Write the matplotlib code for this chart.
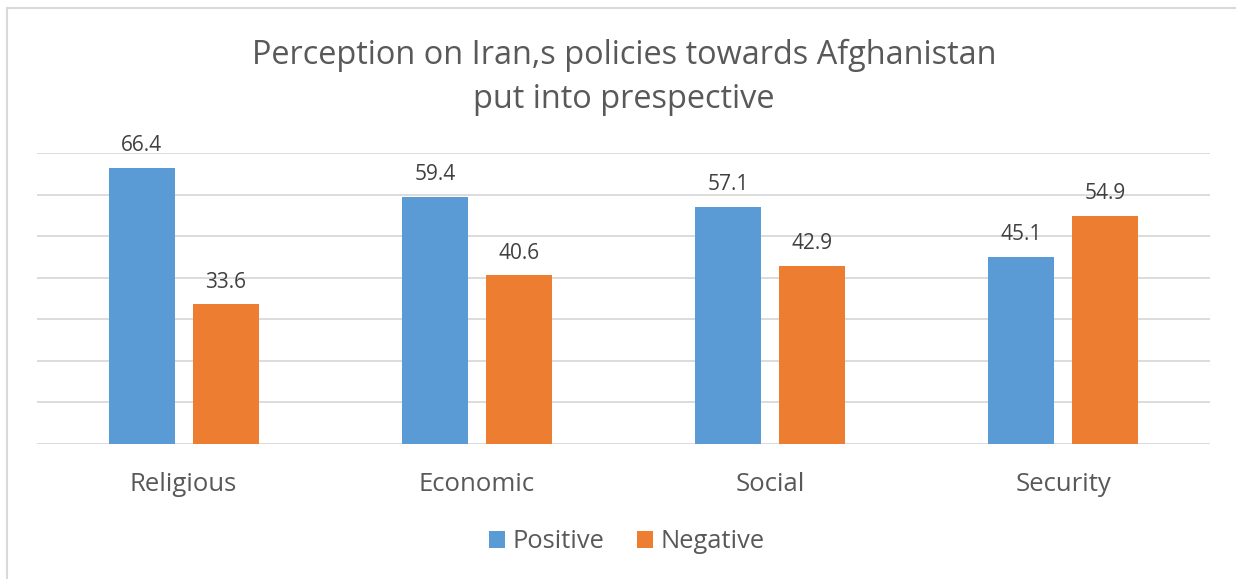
import numpy as np
import matplotlib.pyplot as plt
import matplotlib as mpl
from matplotlib.lines import Line2D

mpl.rc('font', family='Open Sans')

categories = ['Religious', 'Economic', 'Social', 'Security']
positive = [66.4, 59.4, 57.1, 45.1]
negative = [33.6, 40.6, 42.9, 54.9]

txt = '#595959'
fig = plt.figure(figsize=(12.36, 5.79), dpi=100)
ax = fig.add_axes([37/1236, 1-444/579, 1173/1236, 291/579])

x = np.arange(len(categories))
w = 0.225
off = 0.1435
b1 = ax.bar(x - off, positive, w, color='#5b9bd5', label='Positive', zorder=3)
b2 = ax.bar(x + off, negative, w, color='#ed7d31', label='Negative', zorder=3)

for bars in (b1, b2):
    for r in bars:
        ax.annotate(f'{r.get_height():.1f}', (r.get_x() + r.get_width()/2, r.get_height()),
                    xytext=(0, 12), textcoords='offset points', ha='center', va='baseline',
                    fontsize=15, color='#404040')

ax.set_xlim(-0.5, 3.5)
ax.set_ylim(0, 70)
ax.set_yticks(np.arange(0, 71, 10))
ax.yaxis.grid(True, color='#d9d9d9', lw=1.3, zorder=0)
ax.tick_params(axis='y', left=False, labelleft=False)
ax.tick_params(axis='x', bottom=False, pad=17, labelsize=18.5, labelcolor=txt)
ax.set_xticks(x)
ax.set_xticklabels(categories)
for s in ax.spines.values():
    s.set_visible(False)

fig.text(624/1236, 1-55/579, 'Perception on Iran,s policies towards Afghanistan',
         ha='center', va='center', fontsize=23.4, color=txt)
fig.text(624/1236, 1-100/579, 'put into prespective',
         ha='center', va='center', fontsize=23.4, color=txt)

fig.legend(handles=[b1, b2], loc='center', bbox_to_anchor=(627/1236, 1-542/579), ncol=2,
           frameon=False, fontsize=18.4, labelcolor=txt, handlelength=0.6, handleheight=0.6,
           handletextpad=0.3, columnspacing=1.3)

# chart border (left and top visible)
fig.add_artist(Line2D([7/1236, 7/1236], [0, 1-8/579], color='#d9d9d9', lw=1.5))
fig.add_artist(Line2D([7/1236, 1], [1-8/579, 1-8/579], color='#d9d9d9', lw=1.5))

fig.savefig('out.png', dpi=100)
